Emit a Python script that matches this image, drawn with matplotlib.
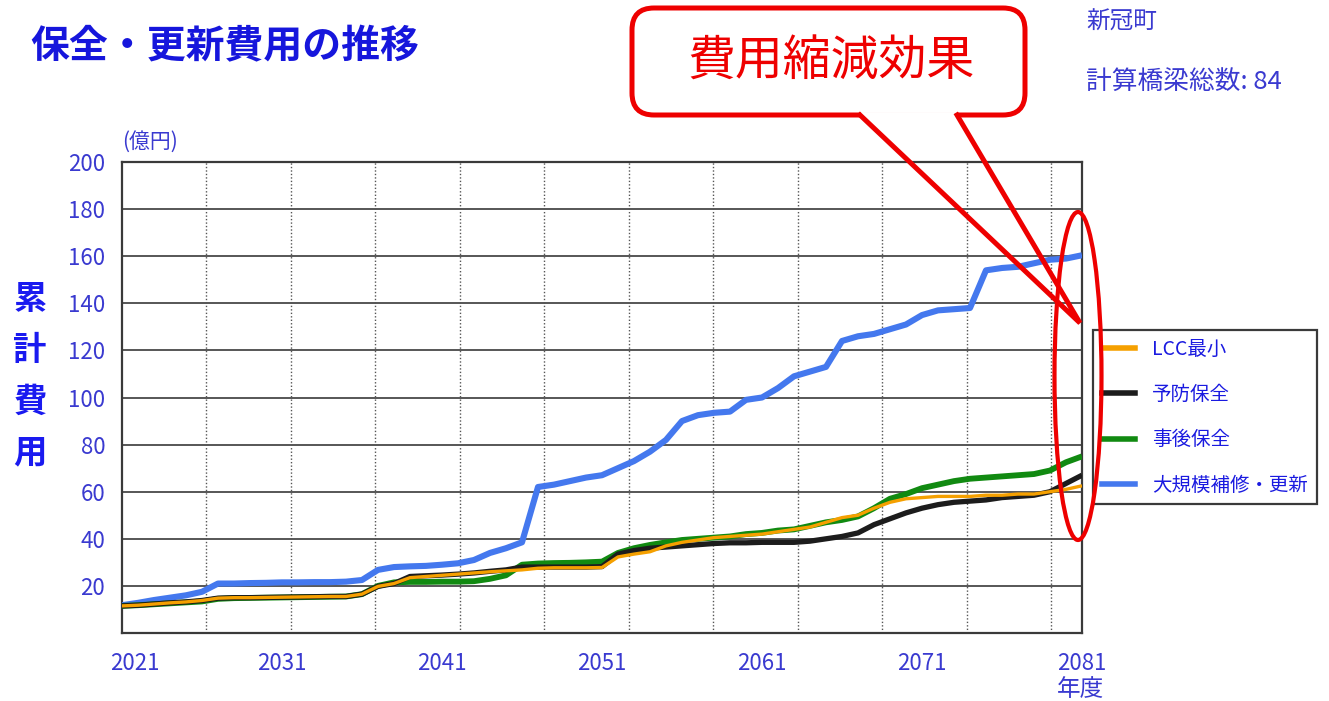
import numpy as np
import matplotlib
matplotlib.use('Agg')
import matplotlib.pyplot as plt
from matplotlib.patches import FancyBboxPatch, Ellipse
from matplotlib.lines import Line2D
import matplotlib.transforms as mtransforms

plt.rcParams['font.family'] = ['Noto Sans CJK JP', 'DejaVu Sans']

# 年度
years = list(range(2021, 2082))

# 累計費用 (億円)
lcc_min = [11.5, 11.8, 12.3, 12.8, 13.2, 13.8, 14.8, 15.0, 15.0, 15.1,
           15.2, 15.3, 15.4, 15.5, 15.5, 16.5, 19.8, 21.0, 23.5, 24.0,
           24.5, 25.0, 25.5, 26.0, 26.4, 26.8, 27.5, 27.7, 27.7, 27.7,
           27.8, 32.3, 33.5, 34.5, 37.0, 38.5, 39.5, 40.5, 41.0, 41.5,
           42.0, 43.0, 44.0, 45.0, 47.0, 49.0, 50.0, 53.0, 55.5, 57.0,
           57.5, 58.0, 58.0, 58.0, 58.5, 58.5, 59.0, 59.0, 60.0, 61.0,
           62.5]
yobou = [11.5, 11.8, 12.3, 12.8, 13.2, 13.8, 14.8, 15.0, 15.0, 15.1,
         15.2, 15.3, 15.4, 15.5, 15.5, 16.5, 19.8, 21.0, 24.0, 24.3,
         24.6, 25.0, 25.5, 26.2, 26.8, 28.0, 28.0, 28.0, 28.0, 28.0,
         28.2, 33.5, 35.0, 36.0, 36.5, 37.0, 37.5, 38.0, 38.3, 38.3,
         38.5, 38.5, 38.5, 39.0, 40.0, 41.0, 42.5, 46.0, 48.5, 51.0,
         53.0, 54.5, 55.5, 56.0, 56.5, 57.5, 58.0, 58.5, 60.0, 63.5,
         67.0]
jigo = [11.5, 11.8, 12.2, 12.6, 13.0, 13.4, 14.5, 14.8, 14.9, 15.0,
        15.1, 15.2, 15.3, 15.4, 15.5, 16.5, 20.0, 21.5, 21.7, 21.7,
        21.8, 21.8, 22.0, 23.0, 24.5, 29.0, 29.5, 29.7, 29.8, 30.0,
        30.3, 34.0, 36.0, 37.4, 38.5, 39.5, 40.0, 40.5, 41.0, 42.0,
        42.5, 43.5, 44.0, 45.5, 47.0, 48.0, 49.5, 53.0, 57.0, 59.0,
        61.5, 63.0, 64.5, 65.5, 66.0, 66.5, 67.0, 67.5, 69.0, 72.5,
        75.0]
koushin = [11.8, 12.8, 14.0, 15.0, 16.0, 17.5, 21.0, 21.0, 21.2, 21.3,
           21.5, 21.5, 21.6, 21.6, 21.8, 22.5, 26.8, 28.0, 28.3, 28.5,
           29.0, 29.6, 31.0, 34.0, 36.0, 38.5, 62.0, 63.0, 64.5, 66.0,
           67.0, 70.0, 73.0, 77.0, 82.0, 90.0, 92.5, 93.5, 94.0, 99.0,
           100.0, 104.0, 109.0, 111.0, 113.0, 124.0, 126.0, 127.0, 129.0, 131.0,
           135.0, 137.0, 137.5, 138.0, 154.0, 155.0, 155.5, 157.0, 158.5, 159.0,
           160.4]

labels = ['LCC最小', '予防保全', '事後保全', '大規模補修・更新']
colors = ['#f5a000', '#1c1c1c', '#118a11', '#4478ee']

xticks = [2021, 2031, 2041, 2051, 2061, 2071, 2081]
yticks = [20, 40, 60, 80, 100, 120, 140, 160, 180, 200]
vgrid = [2021 + 5.28 * k for k in range(1, 12)]

W, H = 1329, 701
blue_txt = '#3a3ad0'

fig = plt.figure(figsize=(W / 100, H / 100), dpi=100)
ax = fig.add_axes([122 / W, 1 - 633 / H, 960 / W, 471 / H])

ax.plot(years, koushin, color=colors[3], lw=4.4, solid_capstyle='butt', zorder=3)
ax.plot(years, jigo, color=colors[2], lw=4.2, solid_capstyle='butt', zorder=4)
ax.plot(years, yobou, color=colors[1], lw=3.8, solid_capstyle='butt', zorder=5)
ax.plot(years, lcc_min, color=colors[0], lw=2.4, solid_capstyle='butt', zorder=6)

ax.set_xlim(2021, 2081)
ax.set_ylim(0, 200)
for y in yticks[:-1]:
    ax.axhline(y, color='#3a3a3a', lw=1.2, zorder=1)
for x in vgrid:
    ax.axvline(x, color='#555555', lw=1.0, ls=(0, (1, 1.5)), zorder=1)

ax.set_xticks(xticks)
ax.set_yticks(yticks)
ax.tick_params(length=0, colors=blue_txt, labelsize=16)
ax.tick_params(axis='y', pad=12)
ax.tick_params(axis='x', pad=14)
for s in ax.spines.values():
    s.set_color('#3a3a3a')
    s.set_linewidth(1.6)
# first year label sits a little right of the axis corner
lab0 = ax.get_xticklabels()[0]
lab0.set_transform(lab0.get_transform() + mtransforms.ScaledTranslation(0.13, 0, fig.dpi_scale_trans))

fig.text(1080 / W, 1 - 690 / H, '年度', color=blue_txt, fontsize=17, ha='center', va='center')
fig.text(122 / W, 1 - 142 / H, '(億円)', color=blue_txt, fontsize=15, ha='left', va='center')

# title and notes
fig.text(30 / W, 1 - 47 / H, '保全・更新費用の推移', color='#1616dc', fontsize=28,
         fontweight='bold', ha='left', va='center')
fig.text(1086 / W, 1 - 22 / H, '新冠町', color=blue_txt, fontsize=17, ha='left', va='center')
fig.text(1086 / W, 1 - 82 / H, '計算橋梁総数: 84', color=blue_txt, fontsize=18.5, ha='left', va='center')

# vertical axis title
for i, ch in enumerate('累計費用'):
    fig.text(30 / W, 1 - (300 + 51 * i) / H, ch, color='#1a1af0', fontsize=24,
             fontweight='bold', ha='center', va='center')

# legend
handles = [Line2D([], [], color=c, lw=4) for c in colors]
leg = ax.legend(handles, labels, loc='upper left', bbox_to_anchor=(1093 / W, 1 - 330 / H),
                bbox_transform=fig.transFigure, borderaxespad=0, fancybox=False,
                edgecolor='#3a3a3a', framealpha=1, fontsize=14, handlelength=1.7,
                handletextpad=0.9, labelspacing=1.25, borderpad=0.45, labelcolor='#1a1ae0')
leg.get_frame().set_linewidth(1.6)

# callout balloon
tr = fig.dpi_scale_trans
red = '#ee0000'
box = FancyBboxPatch((632 / 100, (H - 115) / 100), 393 / 100, 107 / 100,
                     boxstyle='round,pad=0,rounding_size=0.22', transform=tr,
                     facecolor='white', edgecolor=red, lw=3.6, zorder=10)
fig.add_artist(box)
fig.add_artist(Line2D([864 / 100, 953 / 100], [(H - 115) / 100] * 2, transform=tr,
                      color='white', lw=5, zorder=11))
fig.add_artist(Line2D([860 / 100, 1080 / 100, 957 / 100],
                      [(H - 115) / 100, (H - 323) / 100, (H - 115) / 100], transform=tr,
                      color=red, lw=3.6, solid_joinstyle='miter', zorder=11))
fig.text(831 / W, 1 - 62 / H, '費用縮減効果', color=red, fontsize=34.5, ha='center', va='center',
         zorder=12)
fig.add_artist(Ellipse((1078 / 100, (H - 376) / 100), 47 / 100, 328 / 100, transform=tr,
                       fill=False, edgecolor=red, lw=3, zorder=12))

fig.savefig('out.png', dpi=100, facecolor='white')
